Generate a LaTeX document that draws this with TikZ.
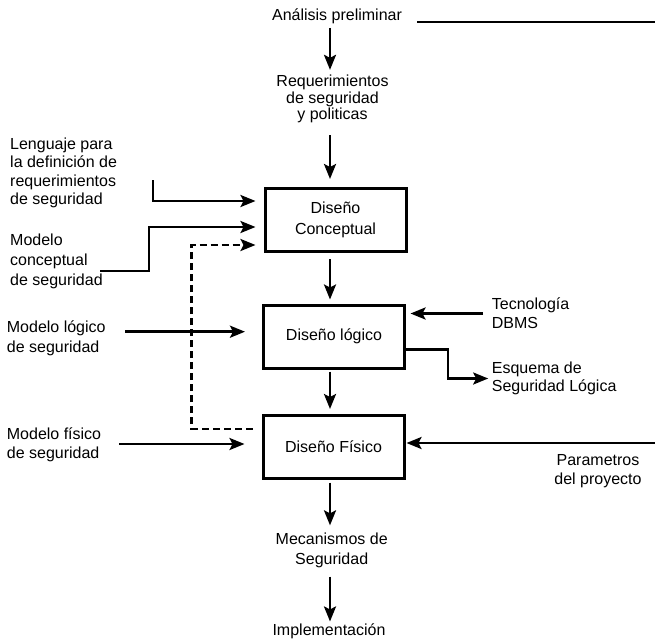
\documentclass[tikz,border=0pt]{standalone}
\usepackage{fontspec}
\setmainfont{Liberation Sans}
\usetikzlibrary{arrows.meta,calc}
\begin{document}
\begin{tikzpicture}[x=1pt,y=-1pt,
  lbl/.style={inner sep=0pt, font=\fontsize{16}{18.5}\selectfont},
  stepbox/.style={draw, line width=3pt, minimum width=141pt, minimum height=63pt,
    inner sep=0pt, align=center, font=\fontsize{16}{20.5}\selectfont},
  conn/.style={line width=2.5pt},
  arr/.style={conn, -{Stealth[length=15pt,width=12pt,inset=3pt]}},
  darr/.style={arr, dash pattern=on 7pt off 4pt},
]
\useasboundingbox (0,0) rectangle (655,640);
\coordinate (col) at (330,0);

% main column
\node[lbl] (ana) at (337,16) {Análisis preliminar};
\node[lbl, align=center, font=\fontsize{16}{16.5}\selectfont] (req) at (332.5,99)
  {Requerimientos\\de seguridad\\y politicas};
\node[stepbox] (box1) at (335.5,220) {Diseño\\Conceptual};
\node[stepbox] (box2) at (334,336.5) {Diseño lógico};
\node[stepbox] (box3) at (333.5,446.5) {Diseño Físico};
\node[lbl, align=center, font=\fontsize{16}{20}\selectfont] (mec) at (331.7,550)
  {Mecanismos de\\Seguridad};
\node[lbl] (imp) at (329,631.7) {Implementación};

% inputs on the left
\node[lbl, anchor=west, align=left] (len) at (10,173)
  {Lenguaje para\\la definición de\\requerimientos\\de seguridad};
\node[lbl, anchor=west, align=left, font=\fontsize{16}{20}\selectfont] (mcon) at (10,261.7)
  {Modelo\\conceptual\\de seguridad};
\node[lbl, anchor=west, align=left, font=\fontsize{16}{20.3}\selectfont] (mlog) at (6.7,338.2)
  {Modelo lógico\\de seguridad};
\node[lbl, anchor=west, align=left, font=\fontsize{16}{19}\selectfont] (mfis) at (6.7,444.5)
  {Modelo físico\\de seguridad};

% inputs and outputs on the right
\node[lbl, anchor=west, align=left, font=\fontsize{16}{19}\selectfont] (tec) at (491.7,313.5)
  {Tecnología\\DBMS};
\node[lbl, anchor=west, align=left] (esq) at (491.7,378.5)
  {Esquema de\\Seguridad Lógica};
\node[lbl, align=center] (par) at (598,471) {Parametros\\del proyecto};

% free ends of connectors
\coordinate (topA) at (417,22);
\coordinate (topB) at (655,22);
\coordinate (lenA) at (153,180);
\coordinate (mconA) at (100,271);
\coordinate (mlogA) at (125,331.7);
\coordinate (mfisA) at (119.3,444);
\coordinate (parA) at (655,443);

\draw[line width=2.8pt] (topA) -- (topB);

% main flow
\draw[arr, shorten <=4pt, shorten >=5pt] (ana.south -| col) -- (req.north -| col);
\draw[arr, shorten <=12pt, shorten >=8pt] (req.south -| col) -- (box1.north -| col);
\draw[arr, shorten <=6pt, shorten >=4pt] (box1.south -| col) -- (box2.north -| col);
\draw[arr, shorten <=2pt, shorten >=4.5pt] (box2.south -| col) -- (box3.north -| col);
\draw[arr, shorten <=3pt, shorten >=7pt] (box3.south -| col) -- (mec.north -| col);
\draw[arr, shorten <=9pt, shorten >=2.5pt] (mec.south -| col) -- (imp.north -| col);

% left inputs
\draw[arr, shorten >=8pt] (lenA) |- ([yshift=19pt]box1.west);
\draw[arr, shorten >=8pt] (mconA) -- ++(49,0) |- ([yshift=-7pt]box1.west);
\draw[darr, shorten <=9pt, shorten >=8pt] ([yshift=17.5pt]box3.west) -- ++(-70,0)
  |- ([yshift=-25pt]box1.west);
\draw[arr, shorten >=17pt] (mlogA) -- ([yshift=4.8pt]box2.west);
\draw[arr, shorten >=17pt] (mfisA) -- ([yshift=2.5pt]box3.west);

% right side
\draw[arr, shorten <=8.5pt, shorten >=4.5pt] (tec.west) -- (tec.west -| box2.east);
\draw[arr, shorten >=3.5pt] ([yshift=-13pt]box2.east) -- ++(42,0) |- (esq.west);
\draw[arr, shorten >=1pt] (parA) -- ([yshift=3.5pt]box3.east);
\end{tikzpicture}
\end{document}
